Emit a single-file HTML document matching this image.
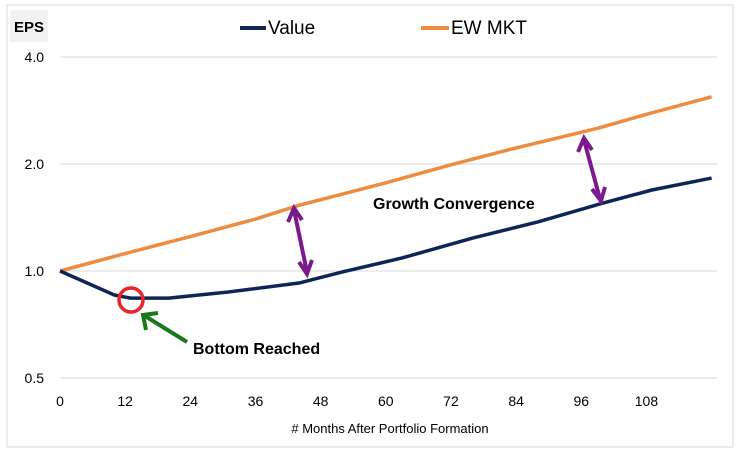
<!DOCTYPE html>
<html><head><meta charset="utf-8"><style>
body{margin:0;background:#fff;font-family:"Liberation Sans",sans-serif}
svg text{font-family:"Liberation Sans",sans-serif}
</style></head><body>
<svg width="747" height="459">
<rect x="7" y="5" width="726" height="442" fill="#fff" stroke="#d9d9d9"/>
<rect x="10" y="10" width="38" height="32" fill="#f2f2f2"/>
<text x="29" y="32" font-size="15" font-weight="bold" text-anchor="middle">EPS</text>
<g id="grid"></g><g id="lines"></g>
<g>
<line x1="240" y1="28" x2="266" y2="28" stroke="#0e2656" stroke-width="4"/>
<text x="268" y="34" font-size="19">Value</text>
<line x1="421" y1="28" x2="449" y2="28" stroke="#ed8b3f" stroke-width="4"/>
<text x="451" y="34" font-size="19">EW MKT</text>
</g>
<text x="390" y="433" font-size="13" text-anchor="middle"># Months After Portfolio Formation</text>
<circle cx="131" cy="300" r="12" fill="none" stroke="#e8242c" stroke-width="3.5"/>
<g stroke="#1a7a1a" stroke-width="4" fill="none">
<line x1="187" y1="342" x2="145" y2="316"/><polyline points="146,330 143,315 158,313"/></g>
<text x="193" y="354" font-size="16" font-weight="bold">Bottom Reached</text>
<g stroke="#7b1a8c" stroke-width="4" fill="none">
<line x1="294" y1="210" x2="307" y2="272"/><polyline points="288,222 294,208 302,220"/><polyline points="299,262 307,274 312,260"/></g>
<g stroke="#7b1a8c" stroke-width="4" fill="none">
<line x1="584" y1="140" x2="600" y2="199"/><polyline points="578,152 584,138 592,150"/><polyline points="592,189 601,201 605,187"/></g>
<text x="373" y="209" font-size="16" font-weight="bold">Growth Convergence</text>
</svg>
<script>
const months=[0,5,10,13,20,31,44,52,63,76,88,100,109,120];
const valueSeries=[1.0,0.925,0.856,0.839,0.839,0.873,0.925,0.994,1.088,1.238,1.374,1.553,1.69,1.826];
const ewMonths=[0,12,24,36,44,60,72,84,99,108,120];
const ewSeries=[1.0,1.12,1.25,1.40,1.53,1.77,1.99,2.22,2.52,2.76,3.09];
const yTicks=[0.5,1.0,2.0,4.0];
const xTicks=[0,12,24,36,48,60,72,84,96,108];
const NS="http://www.w3.org/2000/svg";
const xs=m=>60+m*5.43;
const ys=v=>271-107*Math.log2(v);
const grid=document.getElementById('grid'),lines=document.getElementById('lines');
yTicks.forEach(t=>{
 const l=document.createElementNS(NS,'line');
 l.setAttribute('x1',60);l.setAttribute('x2',717);l.setAttribute('y1',ys(t));l.setAttribute('y2',ys(t));
 l.setAttribute('stroke','#d9d9d9');
 
 
 grid.appendChild(l);
 const tx=document.createElementNS(NS,'text');
 tx.setAttribute('x',44);tx.setAttribute('y',ys(t)+5);tx.setAttribute('font-size','14');tx.setAttribute('text-anchor','end');
 tx.textContent=t.toFixed(1);
 
 
 grid.appendChild(tx);
});
xTicks.forEach(t=>{
 const tx=document.createElementNS(NS,'text');
 tx.setAttribute('x',xs(t));tx.setAttribute('y',406);tx.setAttribute('font-size','14');tx.setAttribute('text-anchor','middle');
 tx.textContent=t;
 
 
 grid.appendChild(tx);
});
function path(ms,vs,color,name){
 const p=document.createElementNS(NS,'polyline');
 p.setAttribute('points',ms.map((m,i)=>xs(m)+','+ys(vs[i])).join(' '));
 p.setAttribute('fill','none');p.setAttribute('stroke',color);p.setAttribute('stroke-width','3.5');p.setAttribute('stroke-linejoin','round');
 
 
 lines.appendChild(p);
}
path(ewMonths,ewSeries,'#ed8b3f','ewmkt-line');
path(months,valueSeries,'#0e2656','value-line');
</script>
</body></html>
